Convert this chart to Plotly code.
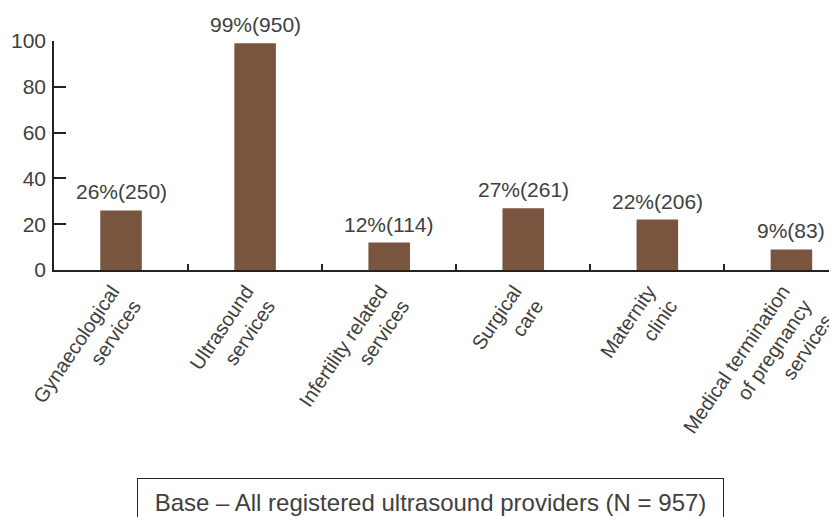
import plotly.graph_objects as go

categories = [
    "Gynaecological<br>services",
    "Ultrasound<br>services",
    "Infertility related<br>services",
    "Surgical<br>care",
    "Maternity<br>clinic",
    "Medical termination<br>of pregnancy<br>services",
]
percent = [26, 99, 12, 27, 22, 9]
counts = [250, 950, 114, 261, 206, 83]
y_ticks = [0, 20, 40, 60, 80, 100]
caption = "Base – All registered ultrasound providers (N = 957)"

FONT = "Liberation Sans, Arial, sans-serif"
TXT = "#404040"
BAR = "#79553f"

fig = go.Figure(
    go.Bar(
        x=categories,
        y=percent,
        marker=dict(color=BAR, line=dict(width=0)),
        width=0.31,
        showlegend=False,
        hoverinfo="skip",
    )
)

for c, p, n in zip(categories, percent, counts):
    fig.add_annotation(
        x=c, y=p, xref="x", yref="y",
        text=f"{p}%({n})",
        showarrow=False,
        yanchor="bottom",
        yshift=5,
        font=dict(family=FONT, size=21, color=TXT),
    )

fig.add_annotation(
    xref="paper", yref="paper",
    x=(137 - 54) / 783, y=(270 - 478) / 229,
    xanchor="left", yanchor="top",
    text=caption,
    showarrow=False,
    width=585, height=46,
    align="center", valign="middle",
    bordercolor="#222222", borderwidth=1, borderpad=0,
    bgcolor="white",
    font=dict(family=FONT, size=24, color=TXT),
)

# page body adds an 8px offset; figure is sized to fill the 837x517 window
fig.update_layout(
    width=829, height=509,
    margin=dict(l=46, r=0, t=33, b=247),
    plot_bgcolor="white", paper_bgcolor="white",
    font=dict(family=FONT, size=21, color=TXT),
)
fig.update_xaxes(
    type="category",
    range=[-0.5, 5.34],
    automargin=False,
    showline=True, linecolor="#222222", linewidth=1.5,
    ticks="inside", ticklen=6, tickwidth=1.5, tickcolor="#222222",
    tickson="boundaries",
    tickangle=-56,
    ticklabelshift=-9,
    tickfont=dict(family=FONT, size=20, color=TXT),
    showgrid=False, zeroline=False,
)
fig.update_yaxes(
    range=[0, 100],
    automargin=False,
    tickvals=y_ticks,
    showline=True, linecolor="#222222", linewidth=1.5,
    ticks="inside", ticklen=12, tickwidth=1.5, tickcolor="#222222",
    tickfont=dict(family=FONT, size=21, color=TXT),
    showgrid=False, zeroline=False,
    ticklabelstandoff=2,
)

fig.write_html("out.html")
